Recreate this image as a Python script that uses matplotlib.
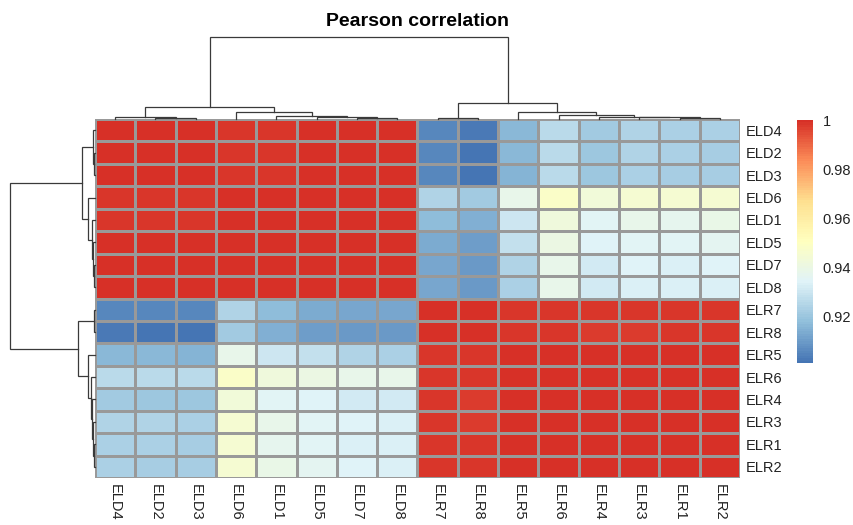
import numpy as np
import matplotlib
matplotlib.use("Agg")
import matplotlib.pyplot as plt
from matplotlib.colors import LinearSegmentedColormap, Normalize
from matplotlib.cm import ScalarMappable

plt.rcParams['font.family'] = ['Liberation Sans', 'DejaVu Sans']

# leaf order as displayed (rows and columns share it)
labels = ["ELD4", "ELD2", "ELD3", "ELD6", "ELD1", "ELD5", "ELD7", "ELD8",
          "ELR7", "ELR8", "ELR5", "ELR6", "ELR4", "ELR3", "ELR1", "ELR2"]

# ELD x ELD block
eld_block = [
    [1.000, 0.9997, 0.9997, 0.9985, 0.9985, 0.9993, 0.9993, 0.9993],
    [0.9997, 1.000, 0.9997, 0.9985, 0.999, 0.9993, 0.9993, 0.9993],
    [0.9997, 0.9997, 1.000, 0.9985, 0.9985, 0.9993, 0.9993, 0.9993],
    [0.9985, 0.9985, 0.9985, 1.000, 0.9995, 0.9995, 0.9995, 0.9995],
    [0.9985, 0.999, 0.9985, 0.9995, 1.000, 0.9997, 0.9997, 0.9997],
    [0.9993, 0.9993, 0.9993, 0.9995, 0.9997, 1.000, 0.9997, 0.9997],
    [0.9993, 0.9993, 0.9993, 0.9995, 0.9997, 0.9997, 1.000, 0.9998],
    [0.9993, 0.9993, 0.9993, 0.9995, 0.9997, 0.9997, 0.9998, 1.000],
]

# ELR x ELR block
elr_block = [
    [1.000, 0.9997, 0.999, 0.9985, 0.9985, 0.9985, 0.999, 0.9988],
    [0.9997, 1.000, 0.999, 0.9985, 0.9975, 0.9975, 0.9983, 0.9983],
    [0.999, 0.999, 1.000, 0.9997, 0.9997, 0.9997, 0.9997, 0.9997],
    [0.9985, 0.9985, 0.9997, 1.000, 0.9997, 0.9997, 0.9997, 0.9997],
    [0.9985, 0.9975, 0.9997, 0.9997, 1.000, 0.9998, 0.9997, 0.9997],
    [0.9985, 0.9975, 0.9997, 0.9997, 0.9998, 1.000, 0.9997, 0.9997],
    [0.999, 0.9983, 0.9997, 0.9997, 0.9997, 0.9997, 1.000, 0.9998],
    [0.9988, 0.9983, 0.9997, 0.9997, 0.9997, 0.9997, 0.9998, 1.000],
]

# ELD rows x ELR columns
cross_block = [
    [0.905, 0.902, 0.916, 0.926, 0.921, 0.924, 0.923, 0.923],
    [0.905, 0.901, 0.916, 0.926, 0.920, 0.924, 0.923, 0.922],
    [0.905, 0.901, 0.915, 0.926, 0.920, 0.923, 0.922, 0.922],
    [0.924, 0.921, 0.938, 0.948, 0.943, 0.945, 0.945, 0.945],
    [0.917, 0.914, 0.930, 0.942, 0.935, 0.938, 0.937, 0.939],
    [0.913, 0.910, 0.928, 0.940, 0.934, 0.935, 0.935, 0.936],
    [0.912, 0.909, 0.924, 0.938, 0.931, 0.934, 0.933, 0.934],
    [0.912, 0.909, 0.923, 0.938, 0.931, 0.933, 0.933, 0.933],
]

# hierarchical merges: (left, right, height); "nK" refers to the K-th merge
merges = [
    ("ELD2", "ELD3", 0.010),
    ("ELD4", "n0", 0.020),
    ("ELD7", "ELD8", 0.012),
    ("ELD5", "n2", 0.025),
    ("ELD1", "n3", 0.040),
    ("ELD6", "n4", 0.085),
    ("n1", "n5", 0.150),
    ("ELR7", "ELR8", 0.015),
    ("ELR1", "ELR2", 0.012),
    ("ELR3", "n8", 0.020),
    ("ELR4", "n9", 0.030),
    ("ELR6", "n10", 0.050),
    ("ELR5", "n11", 0.080),
    ("n7", "n12", 0.200),
    ("n6", "n13", 1.000),
]

cb_ticks = [0.92, 0.94, 0.96, 0.98, 1.0]
cb_ticklabels = ["0.92", "0.94", "0.96", "0.98", "1"]

corr = np.block([[np.array(eld_block), np.array(cross_block)],
                 [np.array(cross_block).T, np.array(elr_block)]])
n = len(labels)

# pheatmap default palette
cmap = LinearSegmentedColormap.from_list(
    "rdylbu_r", ["#4575B4", "#91BFDB", "#E0F3F8", "#FFFFBF",
                 "#FEE090", "#FC8D59", "#D73027"], N=100)
norm = Normalize(vmin=corr.min(), vmax=corr.max())

W, H = 854, 525
fig = plt.figure(figsize=(W / 100, H / 100), dpi=100)


def box(left, top, right, bottom):
    return [left / W, 1 - bottom / H, (right - left) / W, (bottom - top) / H]


ax = fig.add_axes(box(95, 119, 740, 478))
ax.pcolormesh(np.arange(n + 1), np.arange(n + 1), corr, cmap=cmap, norm=norm,
              edgecolors="#999999", linewidth=0.75)
ax.set_xlim(0, n)
ax.set_ylim(n, 0)
ax.set_xticks(np.arange(n) + 0.5)
ax.set_xticklabels(labels, rotation=270, fontsize=10.5, va="top", ha="center")
ax.yaxis.tick_right()
ax.set_yticks(np.arange(n) + 0.5)
ax.set_yticklabels(labels, fontsize=10.5)
ax.tick_params(length=0, pad=4, colors="#222222")
for s in ax.spines.values():
    s.set_visible(False)


def node_coords():
    pos = {lab: i + 0.5 for i, lab in enumerate(labels)}
    hgt = {lab: 0.0 for lab in labels}
    segs = []
    for k, (a, b, h) in enumerate(merges):
        xa, xb = pos[a], pos[b]
        segs.append(([xa, xa, xb, xb], [hgt[a], h, h, hgt[b]]))
        pos["n%d" % k] = (xa + xb) / 2
        hgt["n%d" % k] = h
    return segs


segs = node_coords()
root_h = merges[-1][2]

# column dendrogram
axt = fig.add_axes(box(95, 37, 740, 119))
for xs, hs in segs:
    axt.plot(xs, hs, color="#3a3a3a", lw=0.9, clip_on=False,
             solid_joinstyle="miter")
axt.set_xlim(0, n)
axt.set_ylim(0, root_h)
axt.axis("off")

# row dendrogram
axl = fig.add_axes(box(10, 119, 95, 478))
for xs, hs in segs:
    axl.plot(hs, xs, color="#3a3a3a", lw=0.9, clip_on=False,
             solid_joinstyle="miter")
axl.set_ylim(n, 0)
axl.set_xlim(root_h, 0)
axl.axis("off")

# legend
cax = fig.add_axes(box(797, 120, 813, 363))
cb = fig.colorbar(ScalarMappable(norm=norm, cmap=cmap), cax=cax)
cb.outline.set_visible(False)
cb.set_ticks(cb_ticks)
cb.set_ticklabels(cb_ticklabels)
cax.tick_params(length=0, pad=7, labelsize=10.5, colors="#222222")

fig.text(417.5 / W, 1 - 21 / H, "Pearson correlation", ha="center",
         va="center", fontsize=14, fontweight="bold")

fig.savefig("out.png", dpi=100)
